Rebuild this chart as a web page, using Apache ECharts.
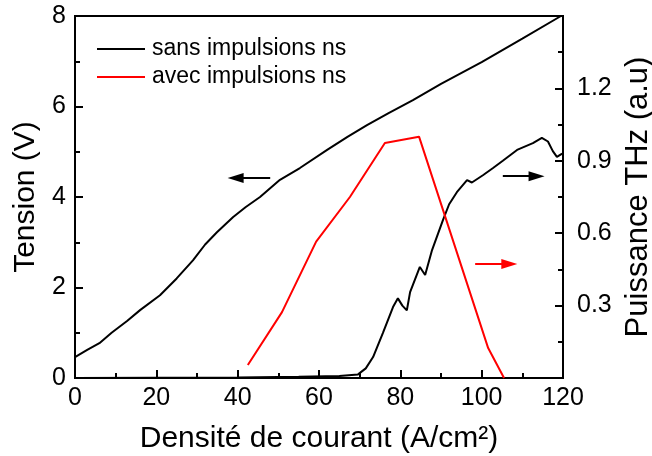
<!DOCTYPE html>
<html>
<head>
<meta charset="utf-8">
<script src="https://cdn.jsdelivr.net/npm/echarts@6/dist/echarts.min.js"></script>
<style>html,body{margin:0;padding:0;background:#fff}#c{width:652px;height:456px}</style>
</head>
<body>
<div id="c"></div>
<script>
// Tension (V) vs current density, sans impulsions ns
const tensionSans = [
  [0,0.46],[3,0.62],[6,0.77],[9,1.0],[12.8,1.26],[16,1.5],[20.9,1.83],[25,2.2],
  [29,2.6],[32,2.95],[34.9,3.22],[38.9,3.56],[42,3.78],[45.5,4.0],[50.4,4.38],
  [55.3,4.64],[62,5.04],[67,5.33],[71.8,5.59],[77,5.85],[83.1,6.14],[90,6.5],
  [100,6.98],[110,7.5],[119.5,8.0]
];
// Puissance THz (a.u), sans impulsions ns
const puissanceSans = [
  [0,0.0],[40,0.002],[55,0.005],[65,0.008],[69.6,0.015],[71.5,0.04],[73.3,0.087],
  [75.7,0.186],[78.2,0.294],[79.4,0.33],[80.5,0.30],[81.6,0.28],[82.4,0.356],
  [84.8,0.46],[86.1,0.427],[87.8,0.53],[90.5,0.655],[92,0.72],[93.9,0.77],
  [96.4,0.82],[97.6,0.81],[100.3,0.84],[102.8,0.87],[105.2,0.90],[108.7,0.945],
  [112.6,0.973],[114.8,0.995],[116.3,0.98],[117.5,0.94],[118.5,0.916],[119.8,0.93]
];
// Puissance THz (a.u), avec impulsions ns
const puissanceAvec = [
  [42.5,0.054],[50.9,0.273],[59.3,0.565],[67.6,0.75],[76.2,0.974],[84.6,1.0],
  [101.6,0.124],[105.5,0.0]
];
const rightTicks = [0.3,0.6,0.9,1.2];
// annotation arrows [from, to] in data coords
const arrowLeft = [[48,4.42],[39.5,4.42]];          // left axis coords
const arrowBlackRight = [[105.2,4.46],[113.5,4.46]]; // left axis coords
const arrowRed = [[98.4,0.472],[106.8,0.472]];       // right axis coords

const font = 'Liberation Sans, Arial, sans-serif';
const chart = echarts.init(document.getElementById('c'), null, {renderer:'canvas'});
const arrowSym = 'path://M0,0 L10,20 L-10,20 Z';
function arrowMark(pairs, color){
  return {
    silent:true, symbol:['none', arrowSym], symbolSize:[10,16],
    label:{show:false}, emphasis:{disabled:true},
    lineStyle:{color:color, width:2, type:'solid'},
    data:pairs.map(p=>[{coord:p[0]},{coord:p[1]}])
  };
}
const tickCommon = {
  axisLine:{show:true, lineStyle:{color:'#000', width:2}},
  axisTick:{show:true, inside:true, length:8, lineStyle:{color:'#000', width:2}},
  minorTick:{show:true, splitNumber:2, length:5, lineStyle:{color:'#000', width:2}},
  splitLine:{show:false}, minorSplitLine:{show:false}
};
chart.setOption({
  animation:false,
  grid:{left:75, right:89, top:16, bottom:78, containLabel:false, outerBoundsMode:'none',
    show:true, borderColor:'#000', borderWidth:2, backgroundColor:'transparent'},
  legend:{
    data:[{name:'sans impulsions ns', icon:'rect'},{name:'avec impulsions ns', icon:'rect'}],
    orient:'vertical', left:97, top:37, padding:0, itemWidth:48, itemHeight:2, itemGap:4,
    textStyle:{fontFamily:font, fontSize:23, lineHeight:24, color:'#000', padding:[0,0,0,2]},
    selectedMode:false
  },
  xAxis:Object.assign({
    type:'value', min:0, max:120, interval:20,
    axisLabel:{fontFamily:font, fontSize:25, color:'#000', margin:8},
    name:'Densité de courant (A/cm²)', nameLocation:'middle', nameGap:46,
    nameTextStyle:{fontFamily:font, fontSize:30, color:'#000'}
  }, tickCommon),
  yAxis:[Object.assign({
    type:'value', min:0, max:8, interval:2, position:'left',
    axisLabel:{fontFamily:font, fontSize:25, color:'#000', margin:9},
    name:'Tension (V)', nameLocation:'middle', nameGap:32,
    nameTextStyle:{fontFamily:font, fontSize:30, color:'#000'}
  }, tickCommon), Object.assign({
    type:'value', min:0, max:1.5, interval:0.3, position:'right',
    axisLabel:{fontFamily:font, fontSize:25, color:'#000', margin:14,
      formatter:function(v){ return rightTicks.some(t=>Math.abs(t-v)<1e-6) ? v.toFixed(1) : ''; }},
    name:'Puissance THz (a.u)', nameLocation:'middle', nameGap:54,
    nameTextStyle:{fontFamily:font, fontSize:31, color:'#000'}
  }, tickCommon)],
  series:[{
    name:'sans impulsions ns', type:'line', yAxisIndex:0, data:tensionSans,
    symbol:'none', lineStyle:{color:'#000', width:2}, itemStyle:{color:'#000'},
    markLine: arrowMark([arrowLeft, arrowBlackRight], '#000')
  },{
    name:'sans impulsions ns', type:'line', yAxisIndex:1, data:puissanceSans,
    symbol:'none', lineStyle:{color:'#000', width:2}, itemStyle:{color:'#000'}
  },{
    name:'avec impulsions ns', type:'line', yAxisIndex:1, data:puissanceAvec,
    symbol:'none', lineStyle:{color:'#ff0000', width:2}, itemStyle:{color:'#ff0000'},
    markLine: arrowMark([arrowRed], '#ff0000')
  }]
});
</script>
</body>
</html>
